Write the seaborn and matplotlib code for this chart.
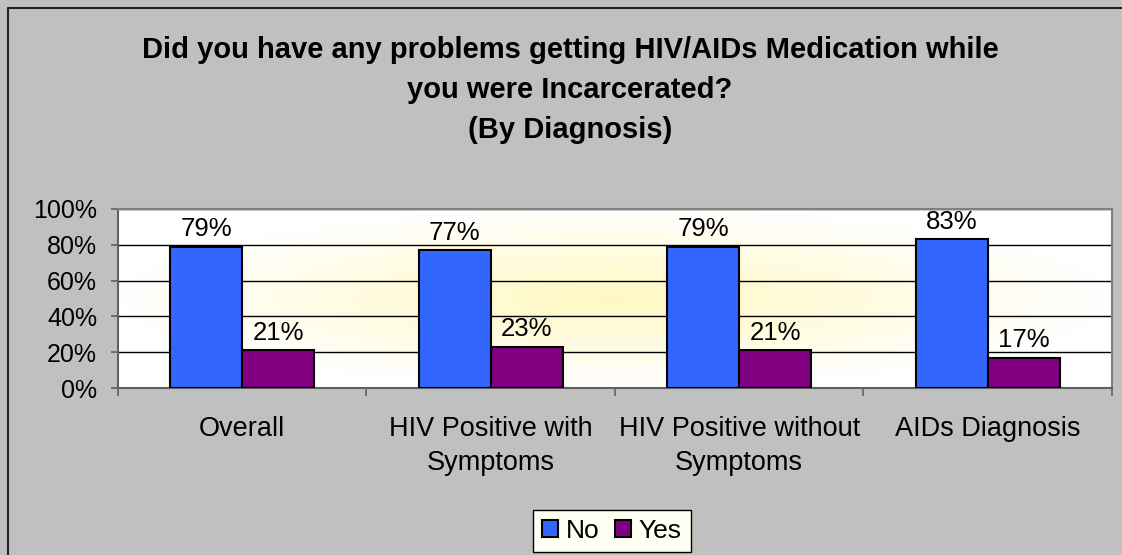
import numpy as np
import pandas as pd
import matplotlib
matplotlib.use("Agg")
import matplotlib.pyplot as plt
import seaborn as sns
from matplotlib.lines import Line2D

categories = ["Overall", "HIV Positive with\nSymptoms", "HIV Positive without\nSymptoms", "AIDs Diagnosis"]
no_values = [79, 77, 79, 83]
yes_values = [21, 23, 21, 17]
series_names = ["No", "Yes"]
yticks = [0, 20, 40, 60, 80, 100]
title = "Did you have any problems getting HIV/AIDs Medication while\nyou were Incarcerated?\n(By Diagnosis)"

sns.set_style("white")
plt.rcParams['font.family'] = ['Liberation Sans', 'DejaVu Sans']
plt.rcParams['text.color'] = 'black'
plt.rcParams['xtick.color'] = 'black'
plt.rcParams['ytick.color'] = 'black'

df = pd.DataFrame({
    "cat": categories * 2,
    "val": no_values + yes_values,
    "series": [series_names[0]] * 4 + [series_names[1]] * 4,
})

fig = plt.figure(figsize=(11.22, 5.55), dpi=100)
fig.patch.set_facecolor("#C0C0C0")
fig.patch.set_edgecolor("#C0C0C0")
fig.patch.set_linewidth(0)
fx, fy = 7.5/1122, 1 - 7.5/555
fig.add_artist(Line2D([fx, fx], [0, fy], transform=fig.transFigure, color="#202020", linewidth=1.5))
fig.add_artist(Line2D([fx, 1.05], [fy, fy], transform=fig.transFigure, color="#202020", linewidth=1.5))

ax = fig.add_axes([118/1122, 1 - 388/555, (1112 - 118)/1122, (388 - 209)/555])

# radial gradient background
nx, ny = 400, 100
xx, yy = np.meshgrid(np.linspace(-1, 1, nx), np.linspace(-1, 1, ny))
r = np.clip(np.sqrt(xx**2 + yy**2), 0, 1)
c0 = np.array([1.0, 0.975, 0.76])
c1 = np.array([1.0, 1.0, 1.0])
t = r[..., None]
img = c0 * (1 - t) + c1 * t
ax.imshow(img, extent=[-0.5, 3.5, 0, 100], aspect="auto", zorder=0, origin="lower")

sns.barplot(data=df, x="cat", y="val", hue="series", palette=["#3366FF", "#800080"],
            width=0.58, edgecolor="black", linewidth=1.5, saturation=1, ax=ax, zorder=3,
            legend=True)

for cont in ax.containers:
    for rect in cont:
        h = rect.get_height()
        ax.annotate(f"{h:.0f}%", (rect.get_x() + rect.get_width() / 2, h),
                    xytext=(0, 4), textcoords="offset points", ha="center", va="bottom",
                    fontsize=18.5, color="black", zorder=5)

ax.set_xlim(-0.5, 3.5)
ax.set_ylim(0, 100)
ax.set_yticks(yticks)
ax.set_yticklabels([f"{v}%" for v in yticks], fontsize=18)
ax.set_xticks(range(4))
ax.set_xticklabels(categories, fontsize=19.5, linespacing=1.4)
ax.tick_params(axis="x", length=0, pad=20)
ax.tick_params(axis="y", length=5, width=1.2, color="#606060", direction="out", pad=10, left=True)
ax.set_xticks([-0.5, 0.5, 1.5, 2.5, 3.5], minor=True)
ax.tick_params(axis="x", which="minor", length=6, width=1.2, color="#606060", direction="out", bottom=True)
ax.set_xlabel("")
ax.set_ylabel("")
ax.yaxis.grid(True, color="black", linewidth=1)
for l in ax.get_ygridlines():
    l.set_zorder(1)
for s in ["left", "bottom"]:
    ax.spines[s].set_color("#606060")
    ax.spines[s].set_linewidth(1.5)
for s in ["top", "right"]:
    ax.spines[s].set_color("#808080")
    ax.spines[s].set_linewidth(1.5)

leg = ax.get_legend()
handles = leg.legend_handles
leg.remove()
fig.legend(handles, series_names, loc="lower center", bbox_to_anchor=(612/1122, 3/555), ncol=2,
           fontsize=19, frameon=True, fancybox=False, edgecolor="black", facecolor="#FFFFF4",
           framealpha=1, handlelength=0.6, handleheight=0.6, handletextpad=0.3, columnspacing=0.6,
           borderpad=0.35, borderaxespad=0)

fig.text(570/1122, 1 - 36/555, title, ha="center", va="top", fontsize=21, fontweight="bold",
         linespacing=1.54)

fig.savefig("out.png", dpi=100, facecolor=fig.get_facecolor())
